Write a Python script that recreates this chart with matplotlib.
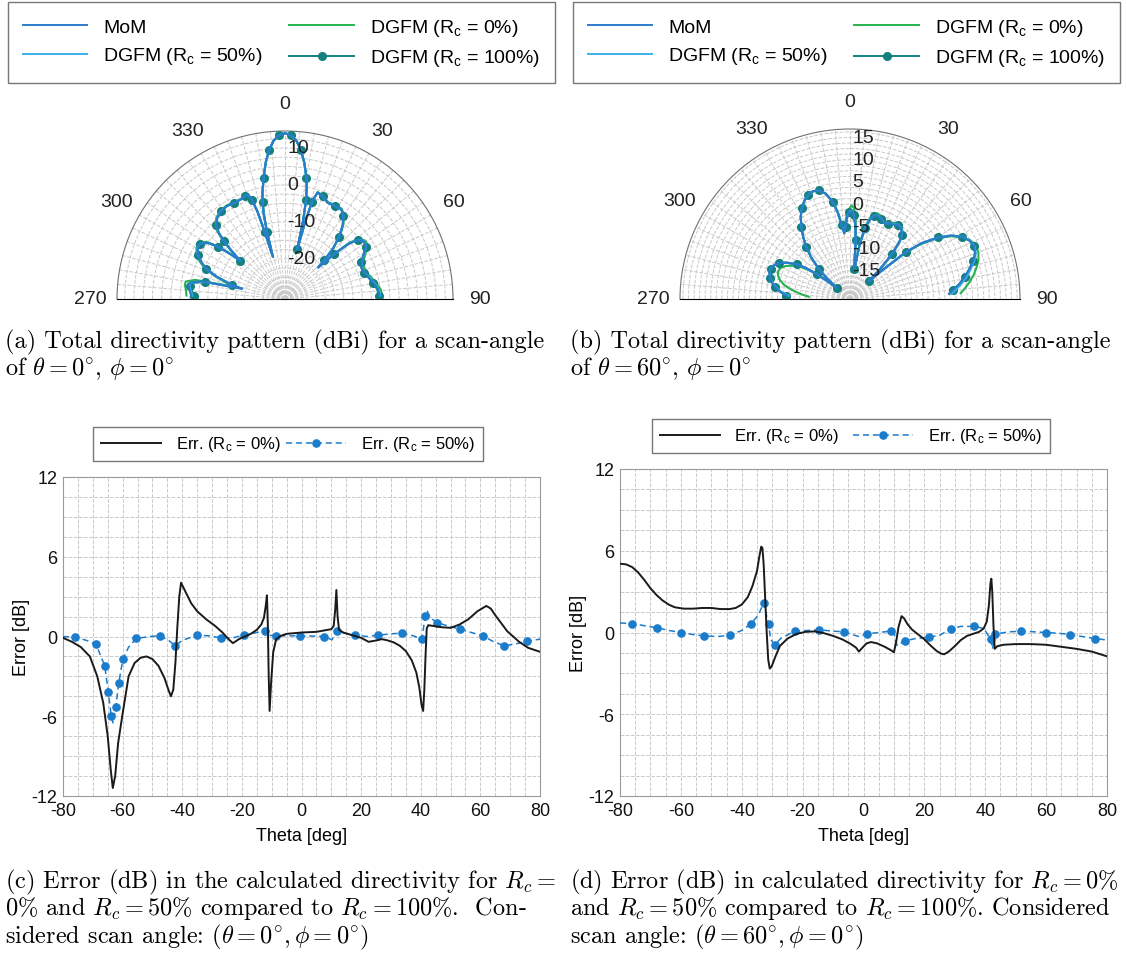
import numpy as np
import matplotlib.pyplot as plt
from matplotlib.ticker import MultipleLocator
from matplotlib.lines import Line2D

plt.rcParams['font.family'] = ['Liberation Sans', 'DejaVu Sans']
plt.rcParams['axes.unicode_minus'] = False
plt.rcParams['mathtext.fontset'] = 'custom'
plt.rcParams['mathtext.rm'] = 'Liberation Sans'
plt.rcParams['mathtext.it'] = 'Liberation Sans'

W, H = 1126, 954

# ---------------- directivity patterns, scan (0, 0) ----------------
theta_a = [-88, -85, -82, -80, -78, -76.5, -75, -72, -69, -66, -63, -60, -57, -54, -52,
           -50.5, -49.5, -48, -46.5, -45, -43, -40, -36, -32, -28, -24, -21, -19.5, -18.5,
           -17.5, -16.8, -16, -15, -14, -13, -12, -10, -8, -6, -4, -2, 0, 2, 4, 6, 8, 10,
           11, 12, 13, 13.8, 14.6, 15.5, 17, 20, 24, 28, 32, 35, 38, 41, 43.5, 45.5, 46.5,
           47.5, 49, 51, 54, 57, 60, 64, 68, 72, 76, 80, 84, 88]
mom_a = [-5.5, -5.0, -4.5, -5.0, -8.0, -19.0, -16.0, -11.5, -8.0, -6.0, -4.5, -3.6, -3.5, -5.0, -8.0,
         -12.0, -15.0, -11.5, -8.0, -5.5, -3.5, -2.3, -1.5, -1.2, -1.5, -1.4, -0.9, -1.0, -2.5,
         -6.0, -12.0, -19.0, -12.0, -7.0, -4.0, -1.5, 2.5, 6.5, 9.8, 12.2, 13.5, 14.0, 13.5, 12.2, 9.8, 6.5, 2.5,
         0.0, -3.5, -9.0, -17.0, -10.0, -3.5, -0.8, -1.2, -2.4, -2.3, -2.2, -3.3, -5.5, -8.5, -12.0, -16.0, -18.5,
         -13.0, -8.0, -5.5, -4.4, -4.8, -6.2, -7.8, -8.5, -8.2, -7.4, -6.4, -5.6, -5.3]
rc0_a = [-4.2, -4.0, -3.5, -3.6, -6.0, -16.0, -15.0, -11.0, -7.5, -5.5, -4.0, -3.2, -3.0, -4.5, -7.5,
         -11.5, -14.5, -11.0, -7.5, -5.0, -3.2, -2.0, -1.3, -1.0, -1.3, -1.3, -0.8, -1.0, -2.4,
         -6.0, -12.0, -19.0, -12.0, -7.0, -4.0, -1.5, 2.5, 6.5, 9.8, 12.2, 13.5, 14.0, 13.5, 12.2, 9.8, 6.5, 2.5,
         0.0, -3.5, -9.0, -17.0, -10.0, -3.4, -0.6, -1.0, -2.2, -2.1, -2.0, -3.0, -5.2, -8.2, -11.8, -15.5, -18.0,
         -12.5, -7.5, -5.0, -4.0, -4.2, -5.6, -7.2, -7.9, -7.6, -6.8, -5.8, -4.9, -4.5]
rc50_a = [-5.8, -5.3, -4.7, -5.2, -8.5, -18.0, -16.0, -11.5, -8.0, -6.0, -4.4, -3.5, -3.4, -4.9, -7.9,
          -12.0, -15.0, -11.5, -8.0, -5.4, -3.4, -2.2, -1.4, -1.2, -1.5, -1.4, -0.9, -1.0, -2.5,
          -6.0, -12.0, -19.0, -12.0, -7.0, -4.0, -1.5, 2.5, 6.5, 9.8, 12.2, 13.5, 14.0, 13.5, 12.2, 9.8, 6.5, 2.5,
          0.0, -3.5, -9.0, -17.0, -10.0, -3.5, -0.8, -1.2, -2.4, -2.3, -2.2, -3.3, -5.5, -8.5, -12.0, -16.0, -18.5,
          -13.0, -8.0, -5.4, -4.3, -4.7, -6.1, -7.7, -8.4, -8.1, -7.2, -6.2, -5.4, -5.1]
rc100_a = [-6.2, -5.6, -5.0, -5.4, -8.8, -18.5, -16.0, -11.5, -8.0, -6.0, -4.5, -3.6, -3.5, -5.0, -8.0,
           -12.0, -15.0, -11.5, -8.0, -5.5, -3.5, -2.3, -1.5, -1.2, -1.5, -1.4, -0.9, -1.0, -2.5,
           -6.0, -12.0, -19.0, -12.0, -7.0, -4.0, -1.5, 2.5, 6.5, 9.8, 12.2, 13.5, 14.0, 13.5, 12.2, 9.8, 6.5, 2.5,
           0.0, -3.5, -9.0, -17.0, -10.0, -3.5, -0.8, -1.2, -2.4, -2.3, -2.2, -3.3, -5.5, -8.5, -12.0, -16.0, -18.5,
           -13.0, -8.0, -5.5, -4.4, -4.8, -6.3, -7.9, -8.6, -8.3, -7.5, -6.6, -5.8, -5.5]

# ---------------- directivity patterns, scan (60, 0) ----------------
theta_b = [-87, -84, -81, -78, -75, -72, -69, -66, -63, -60, -57, -55, -53, -51.5, -50, -48,
           -46, -43, -40, -37, -34, -31, -28, -25, -22, -19, -16, -13, -10, -8, -6.5, -5,
           -3.5, -2, -0.5, 1, 2.5, 4, 5.5, 7, 8.5, 10, 12, 14, 16, 18, 21, 24, 27, 30, 33,
           36, 39, 41, 43, 45, 46.5, 48, 50, 52, 55, 58, 61, 64, 67, 70, 73, 76, 79, 82, 85, 87]
mom_b = [-7.0, -5.5, -4.3, -3.3, -2.7, -2.3, -2.2, -2.6, -3.5, -5.0, -7.0, -9.0, -12.0, -15.0, -17.5, -14.0,
         -11.5, -8.5, -6.0, -3.8, -1.8, 0.2, 1.8, 3.0, 3.9, 4.3, 4.1, 3.0, 0.8, -1.8, -4.5, -6.5,
         -5.0, -3.0, -1.8, -1.6, -2.5, -4.5, -8.0, -13.0, -14.5, -9.0, -5.0, -3.0, -2.0, -1.6, -2.0, -2.6, -2.4, -1.9, -1.5,
         -1.7, -2.8, -4.5, -7.5, -11.5, -15.5, -12.0, -5.0, -1.0, 2.8, 5.6, 7.5, 8.6, 9.0, 8.6, 7.6, 6.3, 5.0, 3.6, 2.0, 1.0]
rc0_b = [-12.0, -10.0, -8.0, -6.2, -5.0, -4.3, -4.0, -4.2, -5.0, -6.3, -8.0, -10.0, -12.5, -15.0, -17.5, -14.0,
         -11.5, -8.5, -6.0, -3.8, -1.8, 0.2, 1.8, 3.0, 3.9, 4.3, 4.1, 3.0, 0.9, -1.5, -4.0, -5.5,
         -4.0, -2.0, -1.0, -0.3, -0.8, -3.0, -7.0, -12.5, -14.0, -8.5, -4.5, -2.4, -1.4, -1.1, -1.5, -2.2, -2.1, -1.6, -1.2,
         -1.4, -2.5, -4.2, -7.2, -11.0, -15.5, -12.5, -5.5, -1.5, 2.4, 5.3, 7.4, 8.8, 9.4, 9.4, 8.9, 8.0, 7.0, 5.8, 4.5, 3.6]
rc50_b = [-7.5, -5.8, -4.5, -3.4, -2.7, -2.3, -2.2, -2.6, -3.5, -5.0, -7.0, -9.0, -12.0, -15.0, -17.5, -14.0,
          -11.5, -8.5, -6.0, -3.8, -1.8, 0.2, 1.8, 3.0, 3.9, 4.3, 4.1, 3.0, 0.8, -1.8, -4.4, -6.3,
          -4.8, -2.8, -1.7, -1.5, -2.4, -4.4, -8.0, -13.0, -14.5, -9.0, -4.9, -2.9, -1.9, -1.5, -1.9, -2.5, -2.3, -1.8, -1.4,
          -1.6, -2.7, -4.4, -7.4, -11.5, -15.5, -12.0, -5.0, -1.0, 2.8, 5.6, 7.6, 8.7, 9.1, 8.8, 7.9, 6.7, 5.5, 4.1, 2.6, 1.6]
rc100_b = [-7.0, -5.5, -4.3, -3.3, -2.7, -2.3, -2.2, -2.6, -3.5, -5.0, -7.0, -9.0, -12.0, -15.0, -17.5, -14.0,
           -11.5, -8.5, -6.0, -3.8, -1.8, 0.2, 1.8, 3.0, 3.9, 4.3, 4.1, 3.0, 0.8, -1.8, -4.5, -6.5,
           -5.0, -3.0, -1.8, -1.6, -2.5, -4.5, -8.0, -13.0, -14.5, -9.0, -5.0, -3.0, -2.0, -1.6, -2.0, -2.6, -2.4, -1.9, -1.5,
           -1.7, -2.8, -4.5, -7.5, -11.5, -15.5, -12.0, -5.0, -1.0, 2.8, 5.6, 7.5, 8.6, 9.0, 8.6, 7.6, 6.3, 5.0, 3.6, 2.0, 1.0]

# ---------------- error curves, scan (0, 0) ----------------
theta_c0 = [-80, -77, -74, -71, -68.5, -66.5, -65, -64, -63.3, -62.5, -61.5, -60, -58, -56, -54, -52, -50,
            -48, -46, -44.5, -43.8, -43, -42.3, -41.7, -41, -40.4, -39, -37, -35, -32, -29, -26.5, -24.5,
            -23, -21, -19, -17, -15, -13.5, -12.6, -12, -11.6, -11.3, -11, -10.7, -10.2, -9.5, -8.5, -7,
            -5, 0, 5, 10, 10.8, 11.3, 11.7, 12.1, 12.6, 14, 17, 20, 22.5, 25, 27, 29, 31, 33, 35, 37,
            38.5, 39.5, 40.3, 40.8, 41.2, 41.6, 42, 42.5, 44, 47, 50, 53, 56, 59, 62, 63.5, 65, 67, 69,
            71, 73, 76, 80]
err_c0 = [-0.1, -0.4, -0.8, -1.5, -3.0, -5.0, -7.5, -10.0, -11.4, -10.5, -8.0, -5.8, -3.0, -2.0, -1.6, -1.5, -1.7,
          -2.2, -3.1, -4.1, -4.5, -4.0, -2.0, 0.5, 3.0, 4.05, 3.4, 2.5, 1.9, 1.3, 0.8, 0.3, -0.2,
          -0.5, -0.2, 0.0, 0.2, 0.5, 0.9, 1.4, 2.3, 3.1, 1.0, -3.0, -5.6, -3.5, -1.2, -0.2, 0.05,
          0.2, 0.3, 0.35, 0.55, 0.8, 2.0, 3.5, 1.5, 0.5, 0.3, 0.1, -0.1, -0.4, -0.3, -0.2, -0.3, -0.45, -0.7, -1.1, -1.8,
          -2.7, -3.8, -5.2, -5.6, -4.0, -1.5, 0.6, 0.85, 0.8, 0.7, 0.65, 0.9, 1.3, 1.9, 2.3, 2.1, 1.6, 1.0, 0.4,
          0.0, -0.4, -0.85, -1.15]

theta_c50 = [-80, -75.9, -72, -68.9, -66, -64.8, -63.8, -63.2, -62.3, -61.3, -59.9, -58, -55.4, -51, -47.5,
             -44.5, -42.4, -40, -35.1, -31, -27, -23, -19.4, -16, -12.1, -11.3, -8.6, -4, -0.4, 4, 7.5,
             10.2, 11.9, 14.5, 17.9, 22, 25.8, 30, 33.6, 37.5, 40.4, 41.5, 42.2, 43.2, 45.5, 49, 53.2,
             57, 60.8, 64.5, 68, 72, 75.8, 80]
err_c50 = [0.0, -0.05, -0.3, -0.6, -2.2, -4.2, -6.0, -6.5, -5.3, -3.5, -1.7, -0.8, -0.15, 0.0, 0.05,
           -0.3, -0.7, -0.3, 0.1, 0.05, -0.1, -0.1, 0.1, 0.25, 0.45, 0.1, 0.05, 0.05, 0.05, 0.03, 0.0,
           -0.25, 0.45, 0.25, 0.1, 0.0, 0.1, 0.2, 0.25, 0.05, -0.2, 1.55, 1.9, 1.4, 1.05, 0.8, 0.55,
           0.3, 0.05, -0.4, -0.7, -0.55, -0.35, -0.2]
mark_c50 = [0, 1, 0, 1, 1, 1, 1, 0, 1, 1, 1, 0, 1, 0, 1,
            0, 1, 0, 1, 0, 1, 0, 1, 0, 1, 0, 1, 0, 1, 0, 1,
            0, 1, 0, 1, 0, 1, 0, 1, 0, 1, 1, 0, 0, 1, 0, 1,
            0, 1, 0, 1, 0, 1, 0]

# ---------------- error curves, scan (60, 0) ----------------
theta_d0 = [-80, -78, -76, -74, -72, -70, -68, -66, -64, -62, -59, -56, -53, -50, -47, -44, -42, -40,
            -38, -36.5, -35, -34.2, -33.6, -33.2, -32.8, -32.3, -31.8, -31.3, -30.8, -30.2, -29, -27.5,
            -25, -22, -19, -16, -13, -10, -7, -4.5, -2.5, -1.5, -0.5, 1, 2.5, 4.5, 7, 9, 10, 10.8, 11.5,
            12.5, 13.3, 14.5, 16, 18, 20, 22, 24, 25.5, 26.5, 28, 30, 32, 34, 36, 38, 39.5, 40.5, 41.2,
            41.7, 42, 42.3, 42.7, 43.1, 44, 46, 50, 55, 60, 65, 70, 75, 80]
err_d0 = [5.05, 5.0, 4.8, 4.4, 3.85, 3.25, 2.75, 2.35, 2.05, 1.85, 1.75, 1.75, 1.8, 1.8, 1.72, 1.72, 1.8, 2.05,
          2.6, 3.4, 4.5, 5.6, 6.3, 6.2, 5.0, 2.5, 0.0, -2.0, -2.65, -2.5, -1.8, -1.0,
          -0.45, -0.1, 0.05, 0.08, -0.05, -0.25, -0.5, -0.8, -1.1, -1.4, -1.15, -0.8, -0.7, -0.8, -1.05, -1.3, -1.45, -0.6, 0.4,
          1.2, 1.05, 0.6, 0.2, -0.15, -0.5, -0.95, -1.35, -1.55, -1.6, -1.4, -1.0, -0.55, -0.25, -0.1, 0.05, 0.3, 0.8, 2.0,
          3.6, 3.95, 3.0, 0.5, -1.2, -1.0, -0.9, -0.85, -0.85, -0.9, -1.05, -1.2, -1.4, -1.75]

theta_d50 = [-80, -75.9, -72, -67.8, -64, -59.9, -56, -52.3, -48, -44, -40, -36.9, -34.5, -32.8, -31.2,
             -30.5, -29.2, -27, -22.4, -18, -14.5, -10, -6.4, -3, -1.5, 1.1, 5, 8.9, 10, 11, 13.6, 17,
             21.5, 25, 28.6, 32, 36.3, 39.5, 41.8, 42.4, 43.3, 48, 51.9, 56, 59.9, 64, 67.9, 72, 76.1, 80]
err_d50 = [0.7, 0.65, 0.5, 0.35, 0.15, 0.0, -0.15, -0.25, -0.3, -0.2, 0.15, 0.65, 1.3, 2.2, 0.6,
           -0.5, -0.9, -0.4, 0.1, 0.15, 0.2, 0.1, 0.05, -0.2, -0.3, -0.1, 0.0, 0.1, 0.0, -0.95, -0.6, -0.45,
           -0.35, -0.2, 0.25, 0.45, 0.45, 0.3, -0.5, -1.2, -0.1, 0.05, 0.1, 0.05, 0.0, -0.05, -0.15, -0.3, -0.45, -0.55]
mark_d50 = [0, 1, 0, 1, 0, 1, 0, 1, 0, 1, 0, 1, 0, 1, 1,
            0, 1, 0, 1, 0, 1, 0, 1, 0, 0, 1, 0, 1, 0, 0, 1, 0,
            1, 0, 1, 0, 1, 0, 1, 0, 1, 0, 1, 0, 1, 0, 1, 0, 1, 0]

c_mom = '#2b7bcb'
c_50 = '#3bb2ea'
c_0 = '#25b24e'
c_100 = '#12807f'
c_err0 = '#1a1a1a'
c_err50 = '#1b7ccc'
grid_kw = dict(color='#c9c9c9', linestyle='--', linewidth=0.7)

fig = plt.figure(figsize=(W / 100, H / 100), dpi=100)


def rect(x0, y0, x1, y1):
    # pixel box (top-left origin) -> figure fraction rect
    return [x0 / W, 1 - y1 / H, (x1 - x0) / W, (y1 - y0) / H]


def polar_panel(cx, cy, R, theta, mom, rc0, rc50, rc100, rlim, rticks, rminor):
    # the half disc sits in the middle of a square box of side 2R
    ax = fig.add_axes(rect(cx - R, cy - R / 2 - R, cx + R, cy - R / 2 + R), projection='polar')
    ax.set_theta_zero_location('N')
    ax.set_theta_direction(-1)
    ax.set_thetamin(-90)
    ax.set_thetamax(90)
    t = np.deg2rad(theta)
    ax.plot(t, rc0, color=c_0, lw=1.5, zorder=3)
    ax.plot(t, rc100, color=c_100, lw=1.5, marker='o', ms=5.5, markevery=2, zorder=4)
    ax.plot(t, rc50, color=c_50, lw=1.5, zorder=5)
    ax.plot(t, mom, color=c_mom, lw=1.5, zorder=6)
    ax.set_ylim(*rlim)
    ax.set_yticks(rticks)
    ax.set_yticklabels([''] * len(rticks))
    for v in rticks:
        ax.annotate(str(v), xy=(0, v), xytext=(1.5, 0), textcoords='offset points',
                    ha='left', va='center', fontsize=14, color='#222222', zorder=10)
    ax.yaxis.set_minor_locator(MultipleLocator(rminor))
    ax.set_xticks(np.deg2rad([-90, -60, -30, 0, 30, 60, 90]))
    ax.set_xticklabels(['270', '300', '330', '0', '30', '60', '90'])
    ax.set_xticks(np.deg2rad(np.arange(-90, 91, 5)), minor=True)
    ax.grid(True, which='both', **grid_kw)
    ax.tick_params(axis='both', labelsize=14, colors='#222222')
    ax.tick_params(axis='x', pad=9)
    ax.spines['polar'].set_color('#707070')
    for s in ('start', 'end', 'inner'):
        ax.spines[s].set_visible(False)
    return ax


polar_panel(285, 300, 168, theta_a, mom_a, rc0_a, rc50_a, rc100_a,
            (-30.9, 14.6), [-20, -10, 0, 10], 2.5)
polar_panel(850, 300, 170, theta_b, mom_b, rc0_b, rc50_b, rc100_b,
            (-21.3, 16.9), [-15, -10, -5, 0, 5, 10, 15], 1.25)

pol_handles = [Line2D([], [], color=c_mom, lw=1.4),
               Line2D([], [], color=c_50, lw=1.4),
               Line2D([], [], color=c_0, lw=1.4),
               Line2D([], [], color=c_100, lw=1.4, marker='o', ms=5.5)]
pol_labels = ['MoM', r'DGFM ($\mathrm{R_c}$ = 50%)', r'DGFM ($\mathrm{R_c}$ = 0%)',
              r'DGFM ($\mathrm{R_c}$ = 100%)']
for x0, x1 in ((8, 555), (573, 1120)):
    leg = fig.legend(pol_handles, pol_labels, loc='upper left', bbox_to_anchor=rect(x0, 3, x1, 77),
                     mode='expand', ncol=2, fontsize=14, frameon=True, fancybox=False,
                     borderaxespad=0, handlelength=3.3, handletextpad=0.85, labelspacing=0.5,
                     borderpad=0.75)
    leg.get_frame().set_edgecolor('#555555')
    leg.get_frame().set_linewidth(1.0)


def error_panel(box, th0, e0, th50, e50, marks, legbox):
    ax = fig.add_axes(box)
    idx = [i for i, m in enumerate(marks) if m]
    ax.plot(th0, e0, color=c_err0, lw=1.4, label=r'Err. ($\mathrm{R_c}$ = 0%)', zorder=4)
    ax.plot(th50, e50, color=c_err50, lw=1.1, ls=(0, (4, 2.5)), marker='o', ms=5.2, markevery=idx,
            label=r'Err. ($\mathrm{R_c}$ = 50%)', zorder=3)
    ax.set_xlim(-80, 80)
    ax.set_ylim(-12, 12)
    ax.set_xticks(np.arange(-80, 81, 20))
    ax.set_yticks([-12, -6, 0, 6, 12])
    ax.xaxis.set_minor_locator(MultipleLocator(5))
    ax.yaxis.set_minor_locator(MultipleLocator(1.5))
    ax.grid(True, which='both', **grid_kw)
    ax.tick_params(which='both', length=0, labelsize=13, colors='#111111', pad=4)
    for s in ax.spines.values():
        s.set_color('#9a9a9a')
    ax.set_xlabel('Theta [deg]', fontsize=13, labelpad=6)
    ax.set_ylabel('Error [dB]', fontsize=13, labelpad=1)
    leg = fig.legend(*ax.get_legend_handles_labels(), loc='upper left', bbox_to_anchor=legbox,
                     mode='expand', ncol=2, fontsize=12, frameon=True, fancybox=False,
                     borderaxespad=0, handlelength=3.6, handletextpad=0.9, borderpad=0.45)
    leg.get_frame().set_edgecolor('#555555')
    leg.get_frame().set_linewidth(1.0)
    return ax


error_panel(rect(63, 478, 540, 797), theta_c0, err_c0, theta_c50, err_c50, mark_c50,
            rect(93, 428, 483, 465))
error_panel(rect(620, 470, 1107, 797), theta_d0, err_d0, theta_d50, err_d50, mark_d50,
            rect(652, 420, 1050, 458))

cap_kw = dict(fontsize=17.5, family='cmr10', math_fontfamily='cm', va='baseline', ha='left')
captions = [
    (5, [348, 375], ['(a) Total directivity pattern (dBi) for a scan-angle',
                     r'of $\theta = 0^{\circ}$, $\phi = 0^{\circ}$']),
    (570, [348, 375], ['(b) Total directivity pattern (dBi) for a scan-angle',
                       r'of $\theta = 60^{\circ}$, $\phi = 0^{\circ}$']),
    (5, [888, 915, 943], [r'(c) Error (dB) in the calculated directivity for $R_c =$',
                          r'0% and $R_c = 50\%$ compared to $R_c = 100\%$.  Con-',
                          r'sidered scan angle: $(\theta = 0^{\circ}, \phi = 0^{\circ})$']),
    (570, [888, 915, 943], [r'(d) Error (dB) in calculated directivity for $R_c = 0\%$',
                            r'and $R_c = 50\%$ compared to $R_c = 100\%$. Considered',
                            r'scan angle: $(\theta = 60^{\circ}, \phi = 0^{\circ})$']),
]
for x, ys, lines in captions:
    for y, line in zip(ys, lines):
        fig.text(x / W, 1 - y / H, line, **cap_kw)

fig.savefig('out.png', dpi=100, facecolor='white')
